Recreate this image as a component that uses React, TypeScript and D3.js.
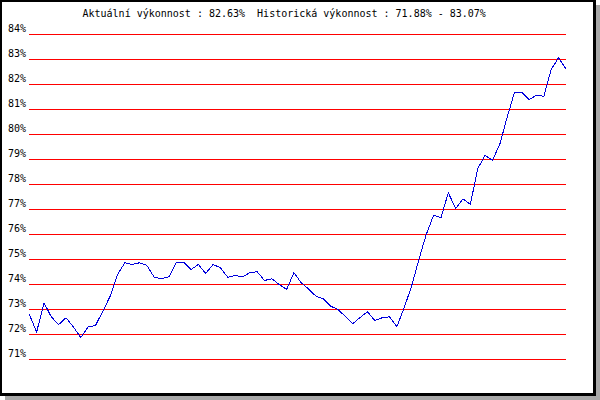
import React from "react";
import * as d3 from "d3";

const tickValues: number[] = [71, 72, 73, 74, 75, 76, 77, 78, 79, 80, 81, 82, 83, 84];
const performance: number[] = [
  72.8, 72.1, 73.27, 72.7, 72.4, 72.67, 72.3, 71.88, 72.3, 72.36,
  72.93, 73.53, 74.4, 74.87, 74.8, 74.87, 74.76, 74.29, 74.23, 74.31,
  74.9, 74.9, 74.6, 74.8, 74.44, 74.8, 74.67, 74.29, 74.36, 74.31,
  74.47, 74.51, 74.16, 74.23, 74.0, 73.8, 74.47, 74.07, 73.82, 73.53,
  73.43, 73.13, 73.0, 72.72, 72.43, 72.68, 72.91, 72.56, 72.67, 72.71,
  72.31, 73.07, 73.93, 75.0, 76.0, 76.77, 76.67, 77.67, 77.04, 77.43,
  77.2, 78.63, 79.16, 78.97, 79.6, 80.68, 81.68, 81.68, 81.4, 81.57,
  81.53, 82.6, 83.07, 82.63,
];
const titleText = "Aktuální výkonnost : 82.63%  Historická výkonnost : 71.88% - 83.07%";

const W = 600;
const H = 400;
const FONT = "'DejaVu Sans Mono', 'Liberation Mono', monospace";

export default function App() {
  const x = d3.scaleLinear().domain([0, performance.length - 1]).range([29.3, 565.9]);
  const y = d3.scaleLinear().domain([71, 84]).range([359.5, 34.5]);
  const line = d3
    .line<number>()
    .x((_, i) => x(i))
    .y((d) => y(d));

  return (
    <div style={{ position: "fixed", left: 0, top: 0 }}>
      <svg width={W} height={H} style={{ display: "block" }}>
        <rect x={0} y={0} width={W} height={H} fill="#ffffff" />
        {/* shadow */}
        <rect x={5} y={5} width={595} height={395} fill="#a8a8a8" />
        {/* frame */}
        <rect x={0} y={0} width={596} height={396} fill="#000000" />
        <rect x={2} y={2} width={591} height={391} fill="#ffffff" />
        <text
          x={82.5}
          y={17}
          fontFamily={FONT}
          fontSize={10}
          fill="#000"
          style={{ whiteSpace: "pre" }}
        >
          {titleText}
        </text>
        {tickValues.map((t) => (
          <g key={t}>
            <line
              x1={29}
              x2={566}
              y1={y(t)}
              y2={y(t)}
              stroke="#ff0000"
              strokeWidth={1}
              shapeRendering="crispEdges"
            />
            <text
              x={26}
              y={y(t) - 2.5}
              textAnchor="end"
              fontFamily={FONT}
              fontSize={10}
              fill="#000"
            >
              {t}%
            </text>
          </g>
        ))}
        <path
          d={line(performance) || ""}
          fill="none"
          stroke="#0000dd"
          strokeWidth={1}
          shapeRendering="crispEdges"
        />
      </svg>
    </div>
  );
}
